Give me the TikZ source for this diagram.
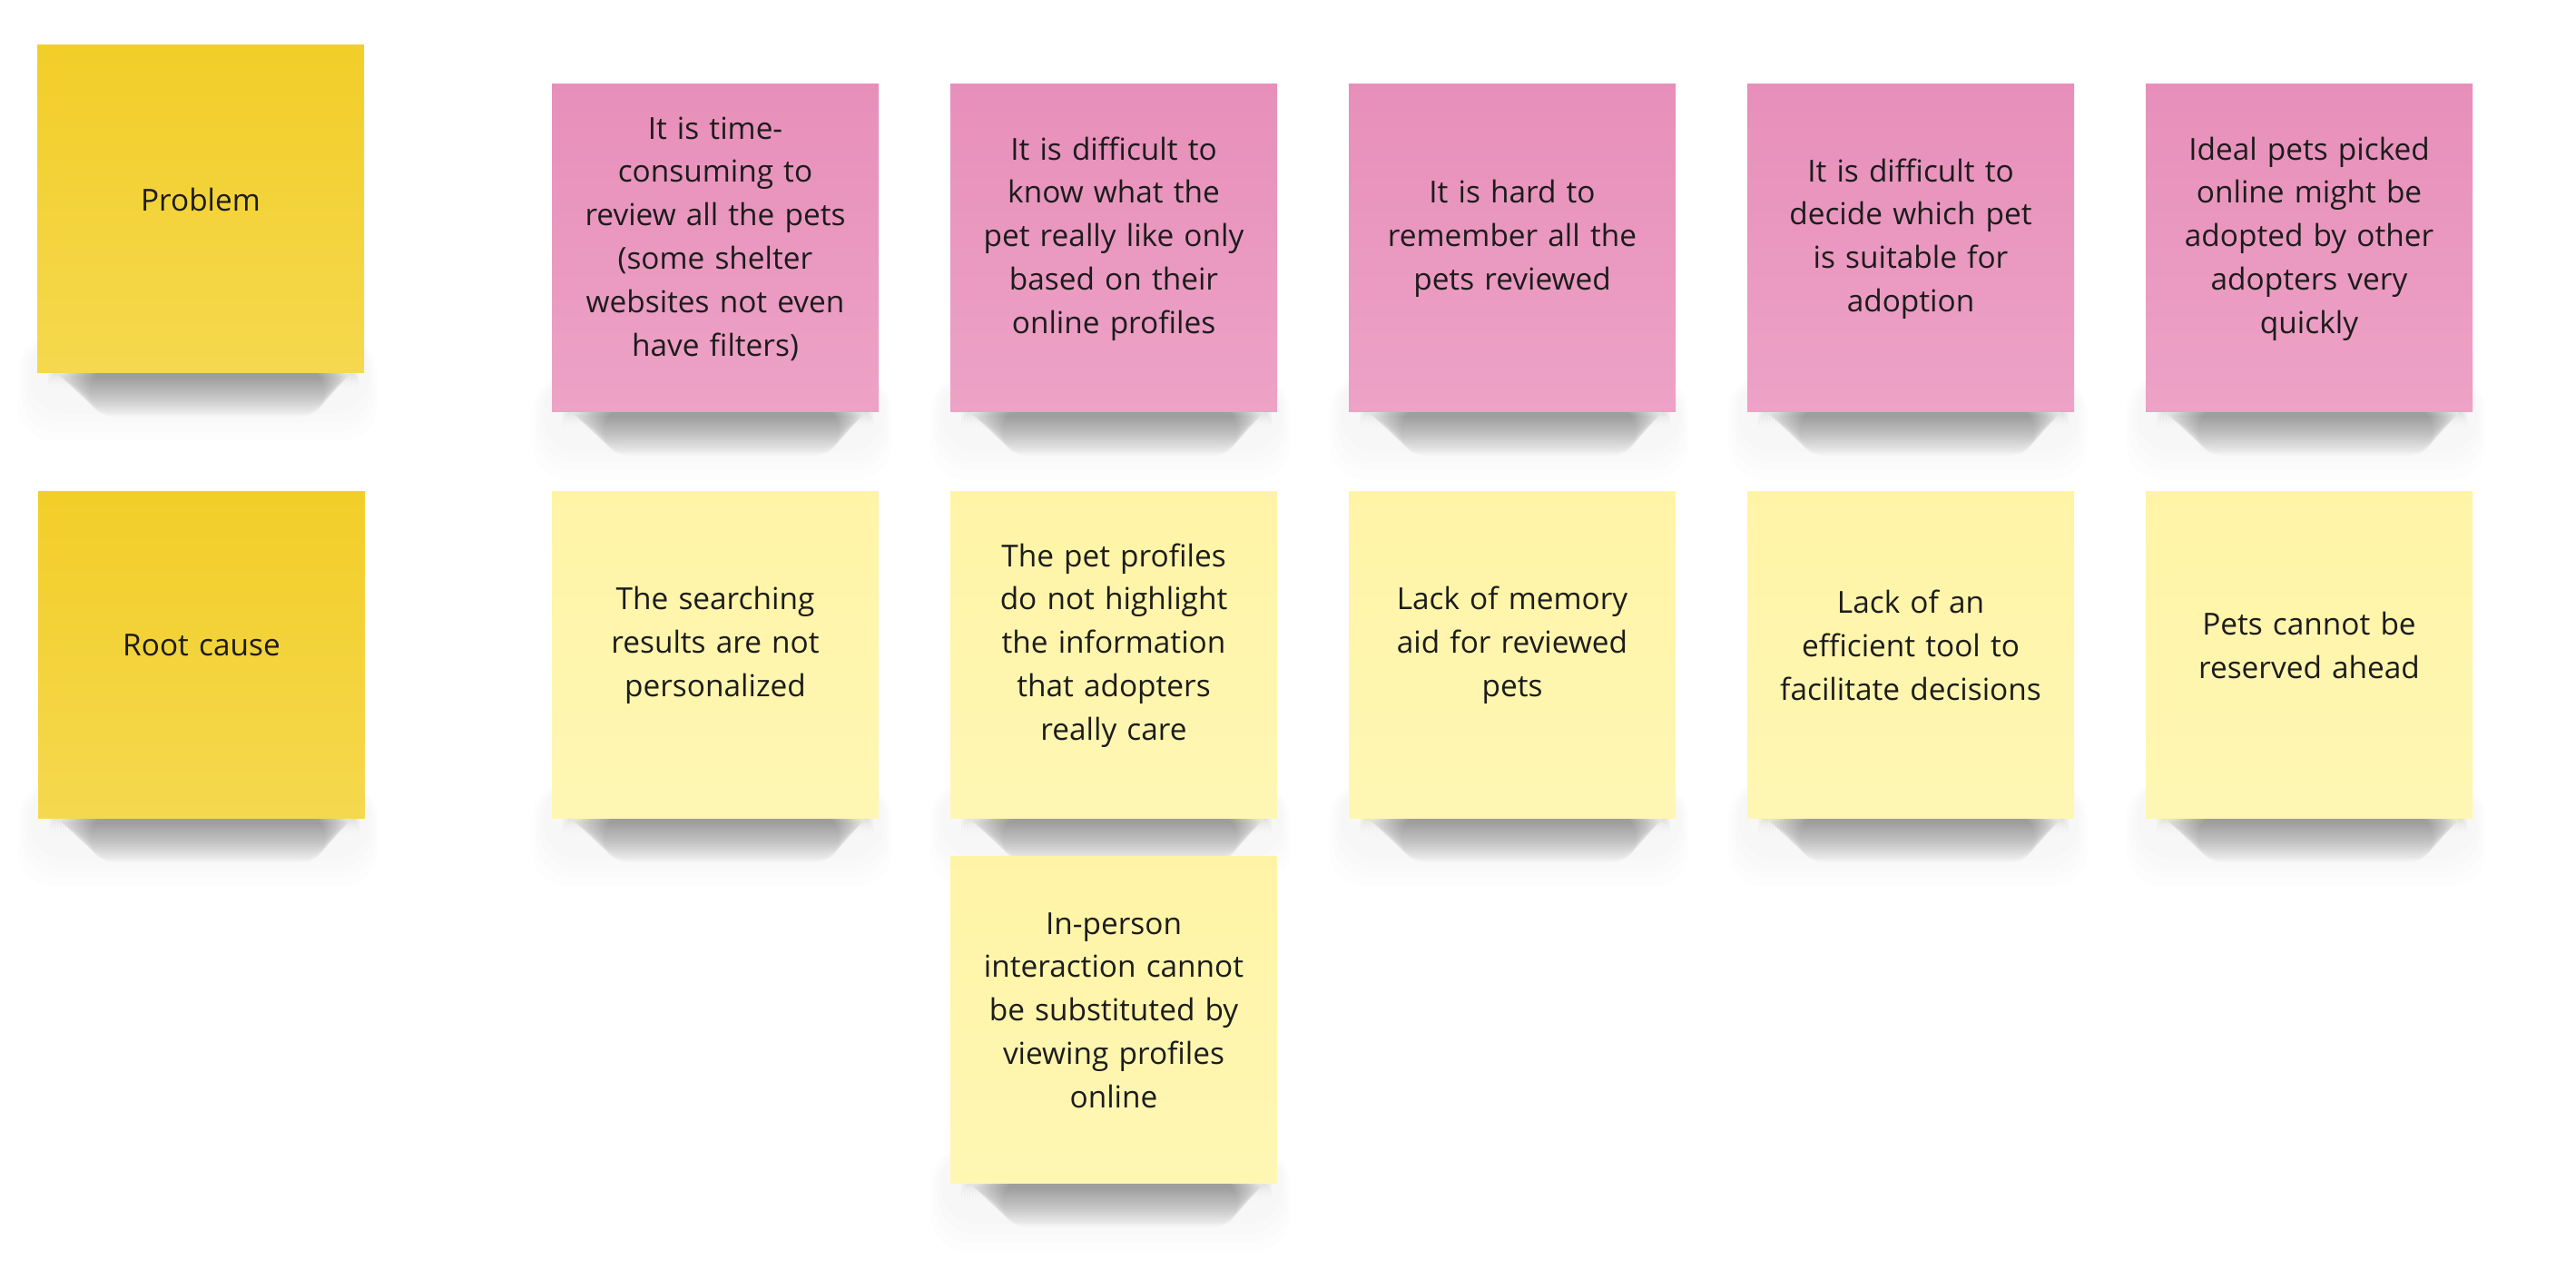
\documentclass[tikz,border=0pt]{standalone}
\usepackage{fontspec}
\setmainfont{Open Sans}
\usetikzlibrary{positioning,calc,backgrounds}
\definecolor{headtop}{HTML}{F2CE28}
\definecolor{headbot}{HTML}{F5D84E}
\definecolor{pinktop}{HTML}{E78FBA}
\definecolor{pinkbot}{HTML}{EDA2C6}
\definecolor{paletop}{HTML}{FFF4A6}
\definecolor{palebot}{HTML}{FEF7B4}
\definecolor{notetext}{HTML}{1C1C1C}
\newcommand{\notegap}{\par\vspace*{0.2cm}}
\tikzstyle{sticky} = [minimum width=3.6cm, minimum height=3.6cm, text width=3.4cm, align=center, inner sep=0pt, text=notetext, font=\fontsize{9.5}{13.6}\selectfont, execute at end node=\notegap]
\tikzstyle{headnote} = [sticky, top color=headtop, bottom color=headbot]
\tikzstyle{pinknote} = [sticky, top color=pinktop, bottom color=pinkbot]
\tikzstyle{palenote} = [sticky, top color=paletop, bottom color=palebot]
\tikzstyle{softshadow} = [fill=black, opacity=0.028, rounded corners=2.5mm]
\tikzstyle{halo} = [fill=black, opacity=0.007, rounded corners=4mm]
\begin{document}
\begin{tikzpicture}
    \useasboundingbox (0,0) rectangle (28.38,-14.09);
    % row titles
    \node [headnote] (problem) at (2.21,-2.30) {Problem};
    \node [headnote] (cause) at (2.22,-7.21) {Root cause};
    % problems
    \node [pinknote] (p1) at (7.88,-2.73) {It is time-\\consuming to\\review all the pets\\(some shelter\\websites not even\\have filters)};
    \node [pinknote] (p2) at (12.27,-2.73) {It is difficult to\\know what the\\pet really like only\\based on their\\online profiles};
    \node [pinknote] (p3) at (16.66,-2.73) {It is hard to\\remember all the\\pets reviewed};
    \node [pinknote] (p4) at (21.05,-2.73) {It is difficult to\\decide which pet\\is suitable for\\adoption};
    \node [pinknote] (p5) at (25.44,-2.73) {Ideal pets picked\\online might be\\adopted by other\\adopters very\\quickly};
    % root causes
    \node [palenote] (r1) at (7.88,-7.21) {The searching\\results are not\\personalized};
    \node [palenote] (r2) at (12.27,-7.21) {The pet profiles\\do not highlight\\the information\\that adopters\\really care};
    \node [palenote] (r3) at (16.66,-7.21) {Lack of memory\\aid for reviewed\\pets};
    \node [palenote] (r4) at (21.05,-7.21) {Lack of an\\efficient tool to\\facilitate decisions};
    \node [palenote] (r5) at (25.44,-7.21) {Pets cannot be\\reserved ahead};
    \node [palenote] (r6) at (12.27,-11.23) {In-person\\interaction cannot\\be substituted by\\viewing profiles\\online};
    % shadows under the notes
    \begin{scope}[on background layer]
      \foreach \n in {problem,cause,p1,p2,p3,p4,p5,r1,r2,r3,r4,r5,r6} {
        \foreach \i in {1,...,4}
          \fill [halo] ($(\n.south west)+(-0.05-0.04*\i,0.4)$) rectangle ($(\n.south east)+(0.02+0.03*\i,-0.35-0.1*\i)$);
        \foreach \i in {1,...,16}
          \fill [softshadow] ($(\n.south west)+(0.1+0.03*\i,0.05)$) rectangle ($(\n.south east)+(-0.04-0.025*\i,-0.03-0.028*\i)$);
      }
    \end{scope}
\end{tikzpicture}
\end{document}
